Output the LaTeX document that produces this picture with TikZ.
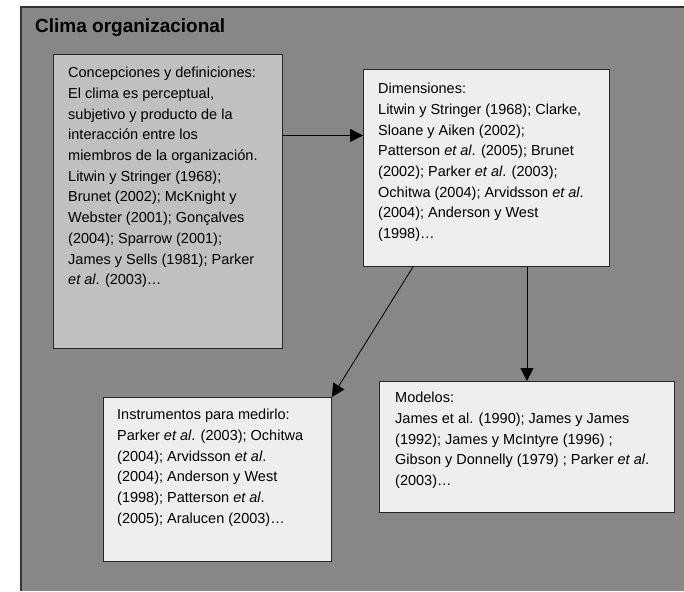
\documentclass[tikz,border=0pt]{standalone}
\usepackage{fontspec}
\setmainfont{Liberation Sans}
\usepackage{xcolor}
\usetikzlibrary{positioning, arrows.meta}

\definecolor{fondo}{HTML}{878787}
\definecolor{oscuro}{HTML}{C0C0C0}
\definecolor{claro}{HTML}{EEEEEE}

\begin{document}
\begin{tikzpicture}[x=1pt, y=-1pt,
    caja/.style={rectangle, draw=black!85, line width=0.9pt, fill=claro, anchor=north west, inner sep=0pt},
    texto/.style={align=left, inner sep=0pt, font=\fontsize{14.5}{20.7}\selectfont},
    line/.style={draw, -{Triangle[length=13pt, width=13pt]}, line width=0.8pt}]

    \useasboundingbox (0,0) rectangle (684,591);

    % Marco
    \fill[fondo] (21,7) rectangle (684,591);
    \draw[black!80, line width=1.4pt] (21,591) -- (21,7) -- (684,7);
    \node[anchor=base west, inner sep=0pt, font=\fontsize{19}{23}\selectfont\bfseries] (titulo) at (35,33) {Clima organizacional};

    % Cajas
    \node[caja, fill=oscuro, minimum width=229pt, minimum height=294pt] (concep) at (53,54) {};
    \node[caja, minimum width=246pt, minimum height=197pt] (dimen) at (363,69) {};
    \node[caja, minimum width=228pt, minimum height=164pt] (instr) at (103,397) {};
    \node[caja, minimum width=295pt, minimum height=131pt] (modelo) at (379,381) {};

    % Textos
    \node[texto, below right=13pt and 15pt of concep.north west] (concepT) {Concepciones y definiciones:\\
        El clima es perceptual,\\
        subjetivo y producto de la\\
        interacción entre los\\
        miembros de la organización.\\
        Litwin y Stringer (1968);\\
        Brunet (2002); McKnight y\\
        Webster (2001); Gonçalves\\
        (2004); Sparrow (2001);\\
        James y Sells (1981); Parker\\
        \textit{et al}. (2003)…};
    \node[texto, below right=14pt and 15pt of dimen.north west] (dimenT) {Dimensiones:\\
        Litwin y Stringer (1968); Clarke,\\
        Sloane y Aiken (2002);\\
        Patterson \textit{et al}. (2005); Brunet\\
        (2002); Parker \textit{et al}. (2003);\\
        Ochitwa (2004); Arvidsson \textit{et al}.\\
        (2004); Anderson y West\\
        (1998)…};
    \node[texto, below right=12pt and 14pt of instr.north west] (instrT) {Instrumentos para medirlo:\\
        Parker \textit{et al}. (2003); Ochitwa\\
        (2004); Arvidsson \textit{et al}.\\
        (2004); Anderson y West\\
        (1998); Patterson \textit{et al}.\\
        (2005); Aralucen (2003)…};
    \node[texto, below right=11pt and 16pt of modelo.north west] (modeloT) {Modelos:\\
        James et al. (1990); James y James\\
        (1992); James y McIntyre (1996) ;\\
        Gibson y Donnelly (1979) ; Parker \textit{et al}.\\
        (2003)…};

    % Flechas
    \path [line] ([yshift=32.5pt]dimen.west -| concep.east) -- ([yshift=32.5pt]dimen.west);
    \path [line] ([xshift=50pt]dimen.south west) -- (instr.north east);
    \path [line] (modelo.north |- dimen.south) -- (modelo.north);

\end{tikzpicture}
\end{document}
